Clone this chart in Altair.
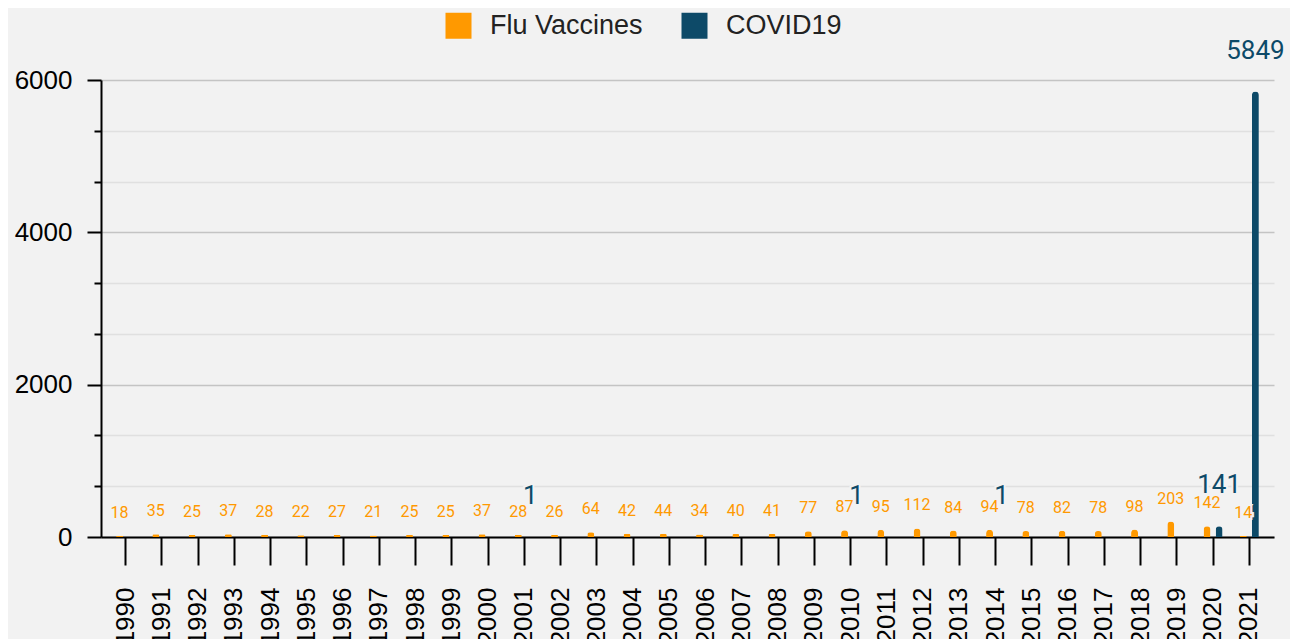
import altair as alt
import pandas as pd

years = ["1990", "1991", "1992", "1993", "1994", "1995", "1996", "1997", "1998", "1999",
         "2000", "2001", "2002", "2003", "2004", "2005", "2006", "2007", "2008", "2009",
         "2010", "2011", "2012", "2013", "2014", "2015", "2016", "2017", "2018", "2019",
         "2020", "2021"]
flu_values = [18, 35, 25, 37, 28, 22, 27, 21, 25, 25,
              37, 28, 26, 64, 42, 44, 34, 40, 41, 77,
              87, 95, 112, 84, 94, 78, 82, 78, 98, 203,
              142, 14]
covid_years = ["2001", "2010", "2014", "2020", "2021"]
covid_values = [1, 1, 1, 141, 5849]

series_names = ["Flu Vaccines", "COVID19"]
series_colors = ["#ff9900", "#0d4a68"]
y_ticks = [0, 666.67, 1333.33, 2000, 2666.67, 3333.33, 4000, 4666.67, 5333.33, 6000]

rows = [{"year": y, "series": "Flu Vaccines", "value": v} for y, v in zip(years, flu_values)]
rows += [{"year": y, "series": "COVID19", "value": v} for y, v in zip(covid_years, covid_values)]
df = pd.DataFrame(rows)

BG = "#f2f2f2"
major = "abs(datum.value % 2000) < 1"

x_enc = alt.X("year:N", sort=years, title=None,
              scale=alt.Scale(paddingInner=0, paddingOuter=0.18),
              axis=alt.Axis(labelAngle=-90, labelFontSize=26, labelFont="Liberation Sans",
                            labelColor="#000", tickSize=28, tickWidth=2, tickColor="#000",
                            domainColor="#000", domainWidth=2, labelPadding=22, grid=False))
xo_enc = alt.XOffset("series:N", sort=series_names,
                     scale=alt.Scale(domain=series_names, paddingInner=0, paddingOuter=0.5))
y_enc = alt.Y("value:Q", title=None,
              scale=alt.Scale(domain=[0, 6000], nice=False),
              axis=alt.Axis(values=y_ticks, format="d",
                            labelExpr="abs(datum.value % 2000) < 1 ? format(datum.value, 'd') : ''",
                            labelFontSize=26, labelFont="Liberation Sans", labelColor="#000",
                            tickSize={"condition": {"test": major, "value": 14}, "value": 7},
                            tickWidth=2, tickColor="#000", domainColor="#000", domainWidth=2,
                            labelPadding=15,
                            gridColor={"condition": {"test": major, "value": "#c4c4c4"}, "value": "#e0e0e0"},
                            gridWidth=1.5))
color_enc = alt.Color("series:N", sort=series_names,
                      scale=alt.Scale(domain=series_names, range=series_colors),
                      legend=alt.Legend(title=None, orient="none", legendX=344, legendY=-68,
                                        direction="horizontal", symbolType="square",
                                        symbolSize=676, symbolStrokeWidth=0,
                                        labelFontSize=27, labelFont="Liberation Sans",
                                        labelColor="#222", labelOffset=18, columnPadding=38))

base = alt.Chart(df).encode(x=x_enc, xOffset=xo_enc, y=y_enc)

bars = base.mark_bar(width=7, cornerRadiusTopLeft=3.5, cornerRadiusTopRight=3.5).encode(color=color_enc)

flu = base.transform_filter(alt.datum.series == "Flu Vaccines")
cov = base.transform_filter(alt.datum.series == "COVID19")

flu_halo = flu.mark_text(dy=-23, font="Roboto", fontSize=16, fill=BG, stroke=BG,
                         strokeWidth=4, baseline="middle").encode(text="value:Q")
flu_text = flu.mark_text(dy=-23, font="Roboto", fontSize=16, color="#ff9900",
                         baseline="middle").encode(text="value:Q")
cov_halo = cov.mark_text(dy=-41, font="Roboto", fontSize=26, fill=BG, stroke=BG,
                         strokeWidth=4, baseline="middle").encode(text="value:Q")
cov_text = cov.mark_text(dy=-41, font="Roboto", fontSize=26, color="#0d4a68",
                         baseline="middle").encode(text="value:Q")

chart = alt.layer(bars, flu_halo, flu_text, cov_halo, cov_text).properties(
    width=1173, height=457,
    autosize=alt.AutoSizeParams(type="none"),
    padding={"left": 93, "top": 72, "right": 16, "bottom": 120},
).configure(background=BG).configure_view(stroke=None)

chart.save("out.html", embed_options={"renderer": "svg", "actions": False})
